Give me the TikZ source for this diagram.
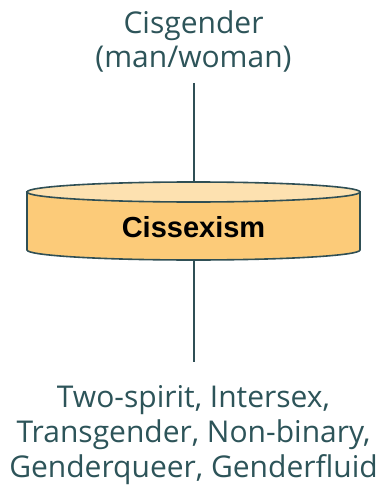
\documentclass[tikz,border=0pt]{standalone}
\usepackage{fontspec}
\setmainfont{Open Sans}
\newfontfamily\boldsans{Liberation Sans}[BoldFont={Liberation Sans Bold}]
\definecolor{txt}{HTML}{2D5459}
\definecolor{edge}{HTML}{2F4F55}
\definecolor{body}{HTML}{FCCB79}
\definecolor{topfill}{HTML}{FDE1B0}
\tikzset{
  label text/.style={text=txt, font=\fontsize{30}{35}\selectfont, align=center, inner sep=0pt},
  connector/.style={draw=edge, line width=2pt},
  cyl outline/.style={draw=edge, line width=1.6pt}
}
\begin{document}
\begin{tikzpicture}[x=1pt,y=-1pt]
\useasboundingbox (0,0) rectangle (386,489);
% top label (anchor base = baseline of last line)
\node[label text, font=\fontsize{30}{34}\selectfont, anchor=base] (cis) at (193.5,68) {Cisgender\\(man/woman)};
% cylinder
\path[fill=body, cyl outline] (27,192) -- (27,250) arc[start angle=180, end angle=0, x radius=166.5, y radius=10] -- (360,192) -- cycle;
\path[fill=topfill, cyl outline] (193.5,192) ellipse[x radius=166.5, y radius=10];
\node[inner sep=0pt, font=\boldsans\bfseries\fontsize{29}{32}\selectfont, text=black] (cyl) at (193.5,227) {Cissexism};
\coordinate (cyltop) at (193.5,182);
\coordinate (cylbot) at (193.5,260);
\coordinate (t1) at (193.5,83);
\coordinate (b1) at (193.5,362);
% bottom label
\node[label text, anchor=base] (bot) at (193.5,477) {Two-spirit, Intersex,\\Transgender, Non-binary,\\Genderqueer, Genderfluid};
\draw[connector] (t1) -- (cyltop);
\draw[connector] (cylbot) -- (b1);
\end{tikzpicture}
\end{document}
